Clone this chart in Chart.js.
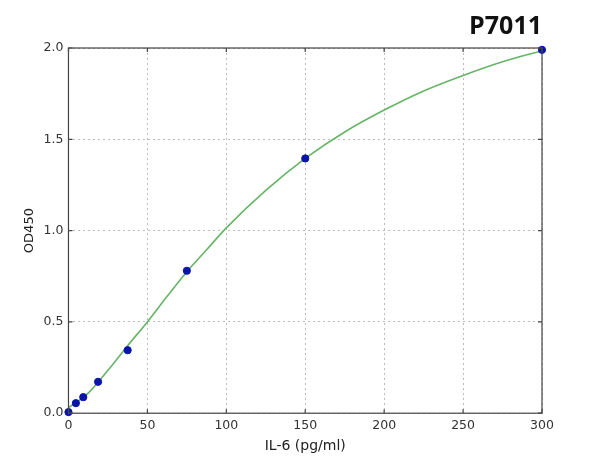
<!DOCTYPE html>
<html>
<head>
<meta charset="utf-8">
<script src="https://cdn.jsdelivr.net/npm/chart.js@4/dist/chart.umd.min.js"></script>
<style>
  html, body { margin: 0; padding: 0; background: #fff; }
  #wrap { width: 600px; height: 465px; }
</style>
</head>
<body>
<div id="wrap"><canvas id="chart"></canvas></div>
<script>
// standard points (pg/ml vs OD450)
const stdConc = [0, 4.69, 9.375, 18.75, 37.5, 75, 150, 300]
const stdOD = [0.006, 0.055, 0.088, 0.172, 0.345, 0.78, 1.395, 1.99]

// fitted curve
const fitConc = [0, 12.5, 25, 37.5, 50, 62.5, 75, 87.5, 100, 125, 150, 175, 200, 225, 250, 275, 300]
const fitOD = [0.03, 0.11, 0.235, 0.37, 0.5, 0.64, 0.775, 0.895, 1.015, 1.22, 1.395, 1.54, 1.66, 1.765, 1.85, 1.925, 1.985]

const xTicks = [0, 50, 100, 150, 200, 250, 300]
const yTicks = [0, 0.5, 1.0, 1.5, 2.0]

const tickFont = { family: 'DejaVu Sans', size: 12.5 }

// frame around the plot + small inward ticks, like the original
const framePlugin = {
  id: 'frame',
  afterDraw (chart) {
    const { ctx, chartArea: a, scales } = chart
    ctx.save()
    ctx.strokeStyle = '#444'
    ctx.lineWidth = 1.2
    ctx.strokeRect(a.left, a.top, a.right - a.left, a.bottom - a.top)
    ctx.beginPath()
    xTicks.forEach(v => {
      const x = scales.x.getPixelForValue(v)
      ctx.moveTo(x, a.bottom); ctx.lineTo(x, a.bottom - 4)
      ctx.moveTo(x, a.top); ctx.lineTo(x, a.top + 4)
    })
    yTicks.forEach(v => {
      const y = scales.y.getPixelForValue(v)
      ctx.moveTo(a.left, y); ctx.lineTo(a.left + 4, y)
      ctx.moveTo(a.right, y); ctx.lineTo(a.right - 4, y)
    })
    ctx.stroke()
    ctx.restore()
  }
}

const ctx = document.getElementById('chart').getContext('2d')
new Chart(ctx, {
  type: 'scatter',
  data: {
    datasets: [{
      label: 'fit',
      type: 'line',
      data: fitConc.map((x, i) => ({ x: x, y: fitOD[i] })),
      borderColor: '#66b566',
      borderWidth: 1.6,
      pointRadius: 0,
      cubicInterpolationMode: 'monotone',
      fill: false,
      order: 2
    },
    {
      label: 'standards',
      data: stdConc.map((x, i) => ({ x: x, y: stdOD[i] })),
      backgroundColor: '#0a14a8',
      borderColor: '#0a14a8',
      pointRadius: 3.6,
      clip: false,
      order: 1
    }]
  },
  options: {
    responsive: true,
    maintainAspectRatio: false,
    animation: false,
    layout: { padding: { left: 22, right: 58, top: 0, bottom: 10 } },
    plugins: {
      legend: { display: false },
      tooltip: { enabled: false },
      title: {
        display: true,
        text: 'P7011',
        align: 'end',
        color: '#111',
        font: { family: 'Open Sans', size: 25, weight: 'bold' },
        padding: { top: 12, bottom: 6 }
      }
    },
    scales: {
      x: {
        type: 'linear',
        min: 0,
        max: 300,
        afterBuildTicks: (axis) => { axis.ticks = xTicks.map(v => ({ value: v })) },
        grid: { color: '#bcbcbc', drawTicks: false },
        border: { display: false, dash: [2, 3] },
        ticks: { color: '#333', font: tickFont, padding: 5 },
        title: {
          display: true,
          text: 'IL-6 (pg/ml)',
          color: '#222',
          font: { family: 'DejaVu Sans', size: 14 },
          padding: { top: 0, bottom: 0 }
        }
      },
      y: {
        min: 0,
        max: 2,
        afterBuildTicks: (axis) => { axis.ticks = yTicks.map(v => ({ value: v })) },
        grid: { color: '#bcbcbc', drawTicks: false },
        border: { display: false, dash: [2, 3] },
        ticks: { color: '#333', font: tickFont, padding: 5, callback: (v) => v.toFixed(1) },
        title: {
          display: true,
          text: 'OD450',
          color: '#222',
          font: { family: 'DejaVu Sans', size: 13 },
          padding: { top: 0, bottom: 1 }
        }
      }
    }
  },
  plugins: [framePlugin]
})
</script>
</body>
</html>
